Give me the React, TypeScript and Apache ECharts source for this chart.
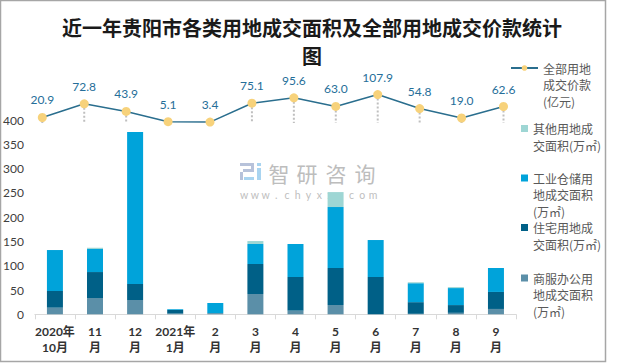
import React, { useEffect, useRef } from 'react';
import * as echarts from 'echarts';

const categories = ['2020年\n10月', '11\n月', '12\n月', '2021年\n1月', '2\n月', '3\n月', '4\n月', '5\n月', '6\n月', '7\n月', '8\n月', '9\n月'];
const commercial = [13.6, 33.5, 29.4, 1.5, 2.5, 41.8, 7.5, 19.1, 0, 1, 3, 11];
const residential = [34.4, 53.5, 33, 7.5, 0, 61.7, 69.3, 76.2, 76.8, 24, 16, 35];
const industrial = [84.3, 47.4, 312.8, 1.5, 20.8, 41.2, 67.9, 125.5, 76.1, 39, 35, 49.3];
const other = [0, 2.6, 0, 0, 0, 6.1, 0, 30.8, 0, 2, 2, 0];
const totalPrice = [20.9, 72.8, 43.9, 5.1, 3.4, 75.1, 95.6, 63.0, 107.9, 54.8, 19.0, 62.6];

const seriesNames = {
  price: '全部用地成交价款(亿元)',
  other: '其他用地成交面积(万㎡)',
  industrial: '工业仓储用地成交面积(万㎡)',
  residential: '住宅用地成交面积(万㎡)',
  commercial: '商服办公用地成交面积(万㎡)',
};
const legendTexts = {
  price: '全部用地\n成交价款\n(亿元)',
  other: '其他用地成\n交面积(万㎡)',
  industrial: '工业仓储用\n地成交面积\n(万㎡)',
  residential: '住宅用地成\n交面积(万㎡)',
  commercial: '商服办公用\n地成交面积\n(万㎡)',
};
const titleText = '近一年贵阳市各类用地成交面积及全部用地成交价款统计\n图';
const watermarkChars = ['智', '研', '咨', '询'];
const watermarkUrl = 'www.chyxx.com';

const colors = {
  commercial: '#5B8FA8',
  residential: '#006087',
  industrial: '#00A3DA',
  other: '#9ED6D4',
  line: '#2A6E8E',
  marker: '#F7D27B',
  label: '#256E99',
};

const NUM_FONT = "Lato, 'Noto Sans CJK SC', sans-serif";
const CJK_FONT = "'Noto Sans CJK SC', sans-serif";
const LH = 16.5;

export default function App() {
  const ref = useRef<HTMLDivElement>(null);
  useEffect(() => {
    if (!ref.current) return;
    const chart = echarts.init(ref.current, null, { renderer: 'svg' });

    const mkLegend = (key: keyof typeof seriesNames, left: number, iconY: number, lines: number, isLine = false) => ({
      data: [seriesNames[key]],
      orient: 'vertical',
      left,
      top: iconY - ((2 * lines - 1) * LH) / 2,
      padding: 0,
      itemWidth: isLine ? 27 : 7,
      itemHeight: 7,
      icon: isLine ? undefined : 'rect',
      selectedMode: false,
      formatter: () => '\n'.repeat(lines - 1) + legendTexts[key],
      textStyle: {
        fontSize: 12,
        lineHeight: LH,
        color: '#595959',
        fontFamily: CJK_FONT,
      },
    });

    const barBase = {
      type: 'bar',
      stack: 'area',
      barWidth: 16,
      xAxisIndex: 0,
      yAxisIndex: 0,
    };

    const wmGraphics: any[] = [];
    const wmX = [279, 307, 336, 365];
    watermarkChars.forEach((c, i) => {
      wmGraphics.push({
        type: 'text',
        x: wmX[i],
        y: 172.5,
        style: { text: c, fontSize: 21, fill: '#bdbdbd', align: 'center', verticalAlign: 'middle', fontFamily: CJK_FONT },
        z: 0,
      });
    });
    watermarkUrl.split('').forEach((c, i) => {
      wmGraphics.push({
        type: 'text',
        x: 244 + i * 10.75,
        y: 194.5,
        style: { text: c, fontSize: 10.5, fill: '#c0c0c0', align: 'center', verticalAlign: 'middle', fontFamily: NUM_FONT },
        z: 0,
      });
    });
    // logo
    wmGraphics.push(
      { type: 'rect', shape: { x: 240, y: 163, width: 14, height: 3 }, style: { fill: '#B7C2DA' }, z: 0 },
      { type: 'rect', shape: { x: 251, y: 163, width: 3, height: 9 }, style: { fill: '#B7C2DA' }, z: 0 },
      { type: 'rect', shape: { x: 243, y: 169, width: 11, height: 3 }, style: { fill: '#B7C2DA' }, z: 0 },
      { type: 'rect', shape: { x: 240, y: 172, width: 3, height: 8 }, style: { fill: '#B7C2DA' }, z: 0 },
      { type: 'rect', shape: { x: 244, y: 177, width: 10, height: 3 }, style: { fill: '#A9D4F0' }, z: 0 },
      { type: 'rect', shape: { x: 257, y: 163, width: 4, height: 3 }, style: { fill: '#A9D4F0' }, z: 0 },
      { type: 'rect', shape: { x: 257, y: 168, width: 4, height: 12 }, style: { fill: '#A9D4F0' }, z: 0 },
    );

    const option: any = {
      animation: false,
      backgroundColor: '#ffffff',
      title: {
        text: titleText,
        left: 307,
        top: 8,
        textAlign: 'center',
        textStyle: { fontSize: 20, fontWeight: 'bold', color: '#1a1a1a', lineHeight: 28, fontFamily: CJK_FONT },
      },
      legend: [
        mkLegend('price', 510, 68, 3, true),
        mkLegend('other', 521, 128.5, 2),
        mkLegend('industrial', 521, 178, 3),
        mkLegend('residential', 521, 227.5, 2),
        mkLegend('commercial', 521, 278, 3),
      ],
      grid: [
        { left: 32, right: 104, top: 120, bottom: 48.7 },
        { left: 42.3, right: 116.5, top: 91.4, height: 31.6 },
      ],
      xAxis: [
        {
          type: 'category',
          gridIndex: 0,
          data: categories,
          axisLine: { lineStyle: { color: '#d9d9d9', width: 1 } },
          axisTick: { show: true, length: 5, lineStyle: { color: '#d9d9d9' } },
          axisLabel: {
            interval: 0,
            margin: 9,
            fontSize: 12,
            fontWeight: 'bold',
            lineHeight: 16,
            color: '#333333',
            fontFamily: NUM_FONT,
          },
        },
        {
          type: 'category',
          gridIndex: 1,
          data: categories,
          boundaryGap: false,
          show: false,
        },
      ],
      yAxis: [
        {
          type: 'value',
          gridIndex: 0,
          min: 0,
          max: 400,
          interval: 50,
          axisLine: { show: false },
          axisTick: { show: false },
          splitLine: { show: false },
          axisLabel: { fontSize: 12, color: '#404040', margin: 11, fontFamily: NUM_FONT },
        },
        {
          type: 'value',
          gridIndex: 1,
          min: 0,
          max: 120,
          show: false,
          splitLine: { show: false },
        },
      ],
      series: [
        { ...barBase, name: seriesNames.commercial, data: commercial, itemStyle: { color: colors.commercial } },
        { ...barBase, name: seriesNames.residential, data: residential, itemStyle: { color: colors.residential } },
        { ...barBase, name: seriesNames.industrial, data: industrial, itemStyle: { color: colors.industrial } },
        { ...barBase, name: seriesNames.other, data: other, itemStyle: { color: colors.other } },
        {
          type: 'custom',
          name: 'drop',
          xAxisIndex: 1,
          yAxisIndex: 1,
          data: totalPrice.map((v, i) => [i, v]),
          encode: { x: 0, y: 1 },
          z: 3,
          silent: true,
          renderItem: (params: any, api: any) => {
            const i = api.value(0);
            const v = api.value(1);
            const p1 = api.coord([i, v]);
            const p0 = api.coord([i, 0]);
            return {
              type: 'line',
              shape: { x1: p1[0], y1: p1[1], x2: p0[0], y2: p0[1] },
              style: { stroke: '#BFBFBF', lineWidth: 2, lineDash: [2, 2] },
            };
          },
        },
        {
          type: 'line',
          name: seriesNames.price,
          xAxisIndex: 1,
          yAxisIndex: 1,
          data: totalPrice,
          z: 5,
          symbol: 'circle',
          symbolSize: 9,
          clip: false,
          lineStyle: { color: colors.line, width: 1.5 },
          itemStyle: { color: colors.marker },
          label: {
            show: true,
            position: 'top',
            distance: 7,
            fontSize: 12,
            color: colors.label,
            fontFamily: NUM_FONT,
            formatter: (p: any) => Number(p.value).toFixed(1),
          },
        },
      ],
      graphic: [
        ...wmGraphics,
        {
          type: 'rect',
          shape: { x: 0.5, y: 0.5, width: 605, height: 361 },
          style: { fill: 'none', stroke: '#A6A6A6', lineWidth: 1.5 },
          silent: true,
          z: 10,
        },
      ],
    };

    chart.setOption(option);
    return () => chart.dispose();
  }, []);

  return <div ref={ref} style={{ position: 'absolute', left: 0, top: 0, width: 620, height: 363 }} />;
}
